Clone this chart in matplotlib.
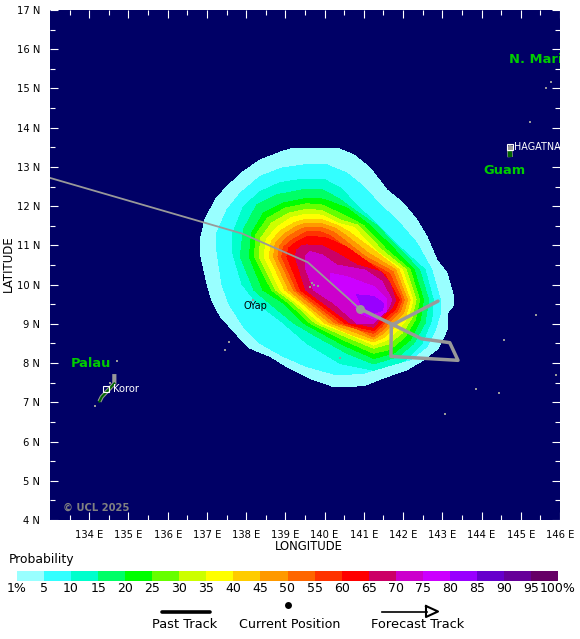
import numpy as np
import matplotlib
matplotlib.use("Agg")
import matplotlib.pyplot as plt
from matplotlib.colors import ListedColormap

W, H = 580, 639

levels = [1, 5, 10, 15, 20, 25, 30, 35, 40, 45, 50, 55, 60, 65, 70, 75, 80, 85, 90, 95, 100]
level_labels = ["1%", "5", "10", "15", "20", "25", "30", "35", "40", "45", "50",
                "55", "60", "65", "70", "75", "80", "85", "90", "95", "100%"]
colors = ["#99FFFF", "#33FFFF", "#00FFCC", "#00FF66", "#00FF00", "#66FF00", "#CCFF00",
          "#FFFF00", "#FFCC00", "#FF9900", "#FF6600", "#FF3300", "#FF0000", "#CC0066",
          "#CC00CC", "#CC00FF", "#9900FF", "#6600CC", "#660099", "#660066"]

# outer edge of each probability band, (lon, lat)
band_01 = [(139.21, 13.48), (140.31, 13.48), (140.74, 13.31), (141.16, 12.97), (141.59, 12.41), (142.01, 12.07),
           (142.35, 11.65), (142.61, 11.22), (142.86, 10.63), (143.12, 10.29), (143.29, 9.70), (143.29, 9.48),
           (143.12, 9.27), (143.12, 8.85), (142.90, 8.38), (142.52, 8.08), (142.10, 7.83), (141.50, 7.62),
           (140.99, 7.42), (140.23, 7.40), (139.63, 7.61), (139.04, 7.91), (138.61, 8.17), (138.10, 8.38),
           (137.80, 8.68), (137.34, 9.19), (137.12, 9.61), (137.00, 10.03), (136.83, 10.80), (136.83, 11.14),
           (136.95, 11.65), (137.21, 12.16), (137.51, 12.50), (137.93, 12.88), (138.36, 13.18), (138.91, 13.39)]
band_05 = [(139.46, 13.05), (140.06, 13.05), (140.57, 12.84), (140.99, 12.50), (141.42, 12.03), (141.84, 11.65),
           (142.35, 11.06), (142.73, 10.38), (142.95, 9.61), (142.95, 9.27), (142.82, 8.85), (142.61, 8.42),
           (142.18, 8.08), (141.50, 7.91), (140.99, 7.74), (140.31, 7.70), (139.55, 7.91), (138.95, 8.17),
           (138.36, 8.50), (137.93, 8.93), (137.55, 9.53), (137.38, 10.02), (137.25, 10.88), (137.25, 11.31),
           (137.51, 11.90), (137.85, 12.33), (138.36, 12.76), (138.91, 12.97)]
band_10 = [(139.46, 12.69), (139.97, 12.69), (140.40, 12.46), (140.82, 12.03), (141.29, 11.57), (141.80, 11.06),
           (142.56, 10.38), (142.77, 9.61), (142.73, 9.10), (142.48, 8.50), (142.01, 8.04), (141.25, 7.82),
           (140.40, 7.99), (139.55, 8.50), (138.95, 9.02), (138.27, 9.53), (137.89, 10.02), (137.66, 10.80),
           (137.66, 11.31), (137.93, 11.99), (138.36, 12.37), (138.87, 12.60)]
band_15 = [(139.46, 12.42), (139.93, 12.42), (140.35, 12.20), (140.82, 11.86), (141.33, 11.51), (141.88, 10.93),
           (142.42, 10.38), (142.65, 9.61), (142.56, 9.02), (142.27, 8.50), (141.88, 8.17), (141.25, 7.98),
           (140.57, 8.25), (139.72, 8.72), (139.21, 9.02), (138.65, 9.48), (138.20, 9.86), (137.85, 10.71),
           (137.93, 11.40), (138.27, 12.03), (138.78, 12.29)]
band_20 = [(139.55, 12.20), (139.97, 12.18), (140.57, 11.95), (141.16, 11.51), (141.71, 10.97), (142.28, 10.38),
           (142.52, 9.61), (142.44, 9.10), (142.18, 8.59), (141.76, 8.25), (141.25, 8.12), (140.48, 8.46),
           (139.46, 9.02), (138.95, 9.53), (138.43, 9.86), (138.08, 10.71), (138.14, 11.31), (138.44, 11.82),
           (138.95, 12.08)]
band_25 = [(139.55, 12.06), (139.93, 12.03), (140.48, 11.78), (140.99, 11.51), (141.59, 10.88), (142.18, 10.38),
           (142.42, 9.61), (142.31, 9.10), (142.05, 8.67), (141.67, 8.35), (141.25, 8.25), (140.48, 8.59),
           (139.63, 9.02), (139.08, 9.53), (138.65, 9.86), (138.21, 10.71), (138.25, 11.27), (138.54, 11.69),
           (138.99, 11.95)]
band_30 = [(139.55, 11.92), (139.93, 11.89), (140.40, 11.65), (140.86, 11.51), (141.46, 10.88), (142.08, 10.38),
           (142.33, 9.61), (142.22, 9.14), (141.97, 8.76), (141.63, 8.49), (141.25, 8.38), (140.52, 8.68),
           (139.76, 9.02), (139.21, 9.53), (138.76, 9.86), (138.33, 10.71), (138.37, 11.18), (138.65, 11.57),
           (139.08, 11.82)]
band_35 = [(139.55, 11.80), (139.93, 11.77), (140.35, 11.56), (140.74, 11.46), (141.33, 10.84), (141.98, 10.38),
           (142.25, 9.61), (142.14, 9.19), (141.88, 8.85), (141.59, 8.59), (141.25, 8.46), (140.57, 8.76),
           (139.89, 9.02), (139.29, 9.53), (138.87, 9.86), (138.46, 10.71), (138.51, 11.14), (138.78, 11.46),
           (139.16, 11.71)]
band_40 = [(139.55, 11.67), (139.93, 11.65), (140.31, 11.52), (140.61, 11.35), (141.25, 10.88), (141.90, 10.38),
           (142.18, 9.61), (142.08, 9.23), (141.80, 8.93), (141.54, 8.67), (141.25, 8.54), (140.65, 8.74),
           (140.01, 9.02), (139.42, 9.53), (138.99, 9.86), (138.59, 10.71), (138.64, 11.10), (138.88, 11.38),
           (139.25, 11.59)]
band_45 = [(139.55, 11.57), (139.93, 11.55), (140.27, 11.44), (140.52, 11.27), (141.12, 10.80), (141.81, 10.38),
           (142.11, 9.61), (142.01, 9.27), (141.74, 9.00), (141.50, 8.76), (141.25, 8.61), (140.74, 8.80),
           (140.14, 9.02), (139.50, 9.53), (139.09, 9.86), (138.70, 10.71), (138.74, 11.04), (138.97, 11.29),
           (139.31, 11.50)]
band_50 = [(139.55, 11.46), (139.93, 11.45), (140.23, 11.34), (140.44, 11.18), (141.03, 10.72), (141.74, 10.33),
           (142.03, 9.61), (141.93, 9.31), (141.67, 9.06), (141.46, 8.83), (141.25, 8.67), (140.78, 8.89),
           (140.27, 9.02), (139.63, 9.53), (139.21, 9.86), (138.81, 10.71), (138.85, 10.99), (139.05, 11.21),
           (139.36, 11.40)]
band_55 = [(139.55, 11.35), (139.93, 11.34), (140.18, 11.22), (140.40, 11.05), (140.95, 10.65), (141.65, 10.29),
           (141.97, 9.61), (141.86, 9.34), (141.63, 9.12), (141.43, 8.91), (141.25, 8.76), (140.86, 8.86),
           (140.40, 9.02), (139.72, 9.53), (139.29, 9.86), (138.91, 10.71), (138.95, 10.95), (139.14, 11.12),
           (139.42, 11.28)]
band_60 = [(139.55, 11.22), (139.97, 11.21), (140.23, 11.11), (140.57, 10.95), (140.99, 10.65), (141.54, 10.25),
           (141.90, 9.61), (141.80, 9.37), (141.59, 9.19), (141.40, 8.97), (141.25, 8.83), (140.95, 8.89),
           (140.52, 9.02), (139.84, 9.53), (139.39, 9.86), (139.04, 10.71), (139.08, 10.93), (139.25, 11.06),
           (139.46, 11.18)]
band_65 = [(139.55, 11.01), (139.93, 10.99), (140.31, 10.80), (140.82, 10.50), (141.42, 10.33), (141.67, 10.03),
           (141.81, 9.61), (141.71, 9.40), (141.52, 9.25), (141.25, 8.91), (140.99, 8.97), (140.65, 9.02),
           (139.97, 9.53), (139.52, 9.86), (139.25, 10.71), (139.29, 10.88), (139.42, 10.99)]
band_70 = [(139.63, 10.84), (139.93, 10.76), (140.31, 10.50), (141.03, 10.37), (141.46, 10.08), (141.71, 9.61),
           (141.63, 9.40), (141.46, 9.23), (141.25, 9.02), (140.82, 9.02), (140.23, 9.53), (139.72, 9.86),
           (139.50, 10.46), (139.50, 10.71)]
band_75 = [(140.14, 10.29), (140.57, 10.20), (141.25, 9.95), (141.59, 9.61), (141.59, 9.35), (141.33, 9.10),
           (140.90, 9.27), (140.57, 9.69), (140.14, 10.12)]
band_80 = [(140.82, 9.74), (141.25, 9.70), (141.50, 9.52), (141.48, 9.35), (141.25, 9.27), (140.95, 9.44)]

bands = [band_01, band_05, band_10, band_15, band_20, band_25, band_30, band_35, band_40,
         band_45, band_50, band_55, band_60, band_65, band_70, band_75, band_80]

past_lon = [133.0, 137.9, 139.57, 140.89]
past_lat = [12.72, 11.3, 10.57, 9.39]
forecast_lon = [140.89, 141.74, 142.47, 143.19, 143.4, 141.69, 141.7, 142.89]
forecast_lat = [9.39, 8.98, 8.62, 8.52, 8.07, 8.17, 8.96, 9.58]

palau_lon = [134.64, 134.64, 134.53, 134.32, 134.26]
palau_lat = [7.72, 7.48, 7.36, 7.14, 7.02]
guam_lon = [144.73, 144.72, 144.76]
guam_lat = [13.25, 13.4, 13.55]
islet_lon = [134.15, 134.70, 134.53, 145.77, 145.64, 145.24, 145.40, 144.56, 143.85,
             144.45, 145.89, 143.07, 138.17, 137.57, 137.46, 140.39, 139.62, 139.67, 139.74, 139.82]
islet_lat = [6.91, 8.06, 7.49, 15.16, 15.0, 14.15, 9.23, 8.59, 7.35,
             7.24, 7.69, 6.70, 9.61, 8.54, 8.33, 8.13, 9.95, 10.05, 9.98, 9.97]

lon_ticks = list(range(134, 147))
lat_ticks = list(range(4, 18))

fig = plt.figure(figsize=(W / 100, H / 100), dpi=100)
ax = fig.add_axes([50 / W, 1 - 520 / H, 510 / W, 510 / H], facecolor="#000066")

for outline, col in zip(bands, colors):
    lons, lats = zip(*outline)
    ax.fill(lons, lats, color=col, lw=0, antialiased=False)

# land
ax.plot(palau_lon, palau_lat, color="#999999", lw=3, solid_capstyle="butt", zorder=3)
ax.plot(palau_lon[1:], palau_lat[1:], color="#006600", lw=1.5, zorder=3)
ax.plot(guam_lon, guam_lat, color="#999999", lw=4, solid_capstyle="butt", zorder=3)
ax.plot(guam_lon[:2], guam_lat[:2], color="#006600", lw=3, solid_capstyle="butt", zorder=3)
ax.plot(islet_lon, islet_lat, ls="none", marker="s", ms=2, mew=0, color="#999999", zorder=3)

# tracks
ax.plot(past_lon, past_lat, color="#999999", lw=1.3, zorder=4)
ax.plot(forecast_lon, forecast_lat, color="#999999", lw=2.5, solid_joinstyle="round",
        solid_capstyle="round", zorder=4)
ax.plot(past_lon[-1], past_lat[-1], "o", ms=6.5, mew=0, color="#999999", zorder=5)

# towns
ax.plot(134.44, 7.35, "s", ms=4.5, mfc="none", mec="white", mew=0.8, zorder=5)
ax.plot(144.73, 13.52, "s", ms=4.5, mfc="none", mec="white", mew=0.8, zorder=5)
ax.text(134.6, 7.35, "Koror", color="white", fontsize=7.2, va="center", zorder=6)
ax.text(144.83, 13.52, "HAGATNA", color="white", fontsize=6.9, va="center", zorder=6, clip_on=True)
ax.text(137.92, 9.46, "OYap", color="black", fontsize=7, va="center", zorder=6)

# country names
ax.text(133.53, 8.0, "Palau", color="#00CC00", fontsize=9.4, fontweight="bold", va="center", zorder=6)
ax.text(144.04, 12.92, "Guam", color="#00CC00", fontsize=9.4, fontweight="bold", va="center", zorder=6)
ax.text(144.7, 15.75, "N. Mari", color="#00CC00", fontsize=9.4, fontweight="bold", va="center",
        zorder=6, clip_on=True)
ax.text(133.33, 4.3, "© UCL 2025", color="#808080", fontsize=7.2, fontweight="bold", va="center", zorder=6)

ax.set_xlim(133, 146)
ax.set_ylim(4, 17)
ax.set_xticks(lon_ticks)
ax.set_xticklabels(["%d E" % v for v in lon_ticks], fontsize=7.2)
ax.set_yticks(lat_ticks)
ax.set_yticklabels(["%d N" % v for v in lat_ticks], fontsize=7.2)
ax.set_xticks(np.arange(133.5, 146, 1), minor=True)
ax.set_yticks(np.arange(4.5, 17, 1), minor=True)
ax.tick_params(which="major", direction="in", length=6, width=0.8, color="white",
               top=True, right=True, pad=7)
ax.tick_params(which="minor", direction="in", length=3.6, width=0.8, color="white",
               top=True, right=True)
for side in ax.spines.values():
    side.set_visible(False)

fig.text(309 / W, 1 - 546 / H, "LONGITUDE", ha="center", va="center", fontsize=8.4)
fig.text(8 / W, 1 - 264 / H, "LATITUDE", ha="center", va="center", rotation=90, fontsize=8.5)

# colour bar
cax = fig.add_axes([17 / W, 1 - 581 / H, 541 / W, 10.5 / H])
cax.pcolormesh(np.arange(len(levels)), [0, 1], [np.arange(len(colors))], cmap=ListedColormap(colors))
cax.set_axis_off()
fig.text(9 / W, 1 - 559.5 / H, "Probability", ha="left", va="center", fontsize=8.9)
for i, lab in enumerate(level_labels):
    fig.text((17 + 541 * i / 20) / W, 1 - 588 / H, lab, ha="center", va="center", fontsize=9)

# key under the bar
key = fig.add_axes([0, 0, 1, 1], facecolor="none")
key.set_xlim(0, W)
key.set_ylim(H, 0)
key.set_axis_off()
key.plot([162, 210], [611.5, 611.5], color="black", lw=2.6, solid_capstyle="round")
key.plot(288, 604.5, "o", ms=5, mew=0, color="black")
key.plot([382, 427], [611.5, 611.5], color="black", lw=1.2)
key.plot([426, 438, 426, 426], [606, 611.5, 617, 606], color="black", lw=1.5)
key.text(185, 624, "Past Track", ha="center", va="center", fontsize=9.4)
key.text(289.5, 624, "Current Position", ha="center", va="center", fontsize=9.1)
key.text(417.5, 624, "Forecast Track", ha="center", va="center", fontsize=9.4)

fig.savefig("out.png", dpi=100)
